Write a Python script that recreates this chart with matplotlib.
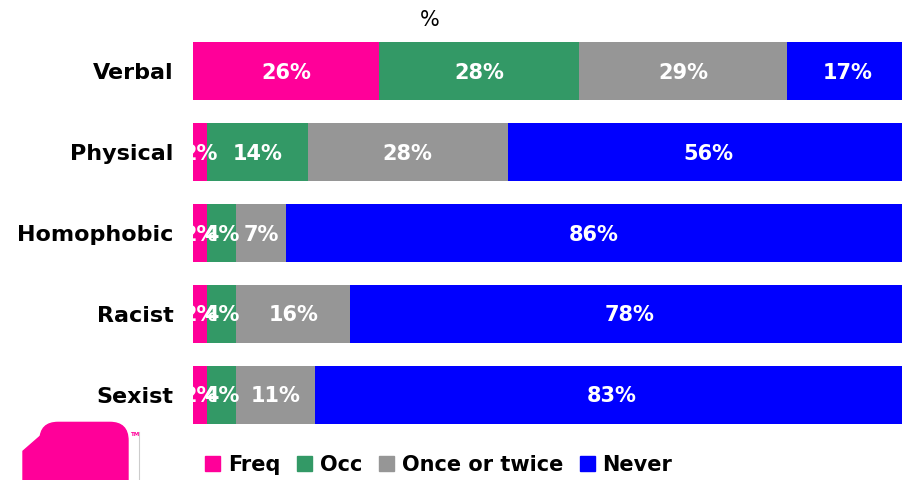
import matplotlib.pyplot as plt
import matplotlib.patches as mpatches
import numpy as np

plt.rcParams['font.family'] = ['DejaVu Sans']

categories = ["Verbal", "Physical", "Homophobic", "Racist", "Sexist"]
series = ["Freq", "Occ", "Once or twice", "Never"]
freq = [26, 2, 2, 2, 2]
occ = [28, 14, 4, 4, 4]
once = [29, 28, 7, 16, 11]
never = [17, 56, 86, 78, 83]
colors = ['#ff0099', '#339966', '#969696', '#0000ff']


def main():
    fig = plt.figure(figsize=(9.03, 4.8), dpi=100)
    ax = fig.add_axes([193 / 903, 1 - 435 / 480, 710 / 903, 404 / 480])
    y = np.arange(len(categories))
    left = np.zeros(len(categories))
    for vals, name, col in zip([freq, occ, once, never], series, colors):
        vals = np.array(vals, dtype=float)
        ax.barh(y, vals, left=left, height=0.72, color=col, label=name)
        for yi, (l, v) in enumerate(zip(left, vals)):
            ax.text(l + v / 2, yi + 0.02, f"{int(v)}%", ha='center', va='center',
                    color='white', fontsize=15, fontweight='bold')
        left += vals

    ax.set_xlim(0, 99.2)
    ax.set_ylim(len(categories) - 0.5, -0.5)
    ax.set_yticks(y)
    ax.set_yticklabels(categories, fontsize=16, fontweight='bold')
    ax.tick_params(axis='y', length=0, pad=14)
    ax.set_xticks([])
    for s in ax.spines.values():
        s.set_visible(False)

    fig.text(430 / 903, 1 - 20 / 480, "%", ha='center', va='center', fontsize=15)

    handles = [mpatches.Patch(color=c) for c in colors]
    fig.legend(handles, series, loc='center left',
               bbox_to_anchor=(186 / 903, 1 - 465 / 480), ncol=4,
               frameon=False, handlelength=0.75, handleheight=0.75,
               handletextpad=0.35, columnspacing=0.8,
               prop={'size': 15, 'weight': 'bold'})

    # logo in the lower left corner
    logo = mpatches.FancyBboxPatch((40 / 903, -0.05), 88 / 903, 0.17,
                                   boxstyle="round,pad=0,rounding_size=0.02",
                                   transform=fig.transFigure, color='#ff0099',
                                   mutation_aspect=903 / 480)
    fig.patches.append(logo)
    tri = mpatches.Polygon([(23 / 903, 0.0), (23 / 903, 0.06), (45 / 903, 0.1),
                            (45 / 903, 0.0)], closed=True,
                           transform=fig.transFigure, color='#ff0099')
    fig.patches.append(tri)
    fig.text(131 / 903, 1 - 434 / 480, "TM", fontsize=4, color='#ff0099',
             fontweight='bold', ha='left', va='center')
    fig.add_artist(plt.Line2D([139 / 903, 139 / 903], [0, 0.1],
                              transform=fig.transFigure, color='#cccccc', lw=0.8))

    fig.savefig("out.png", dpi=100)
    plt.close(fig)


if __name__ == "__main__":
    main()
